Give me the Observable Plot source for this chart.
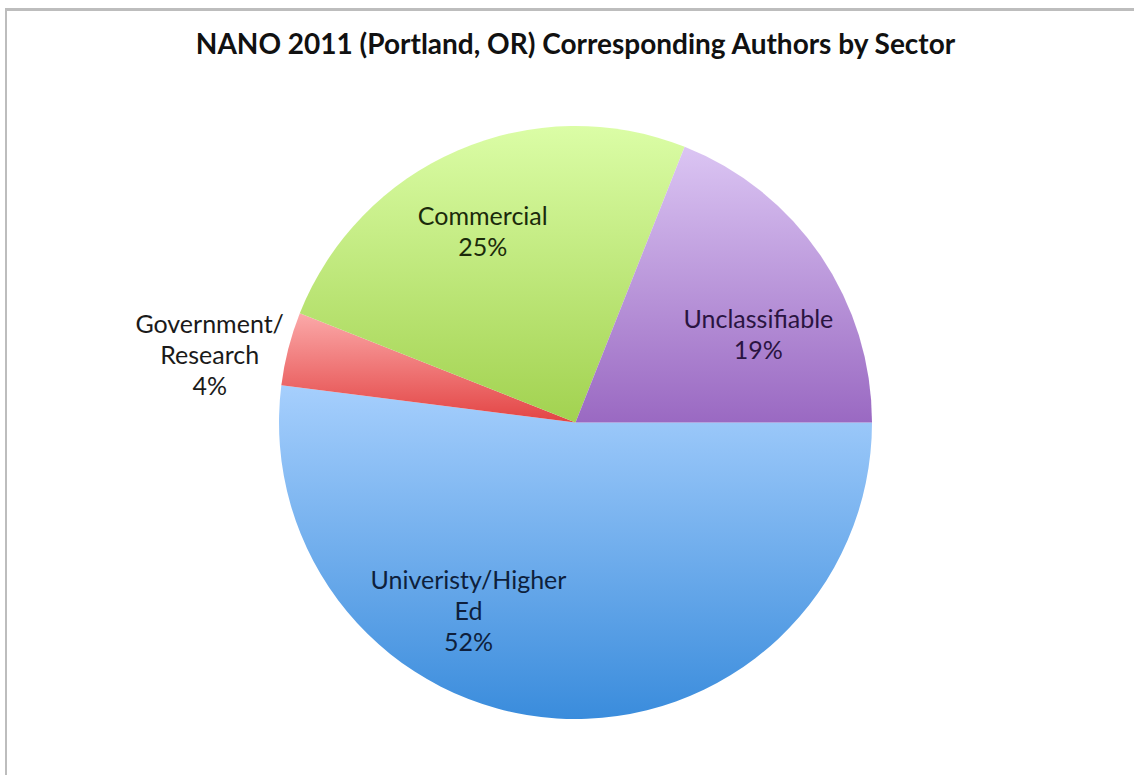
<!DOCTYPE html>
<html>
<head>
<meta charset="utf-8">
<script src="https://cdn.jsdelivr.net/npm/d3@7"></script>
<script src="https://cdn.jsdelivr.net/npm/@observablehq/plot@0.6"></script>
<style>
  html, body { margin: 0; padding: 0; background: #fff; overflow: hidden; }
  body { width: 1134px; height: 775px; position: relative; font-family: Lato, "Open Sans", sans-serif; }
  #frame { position: absolute; left: 5px; top: 8px; width: 1400px; height: 1000px;
           border-top: 3px solid #bdbdbd; border-left: 2px solid #bdbdbd; box-sizing: border-box; }
  #title { position: absolute; left: 0; top: 26px; width: 1151px; text-align: center;
           font-family: Lato, sans-serif; font-weight: bold; font-size: 28px; line-height: 34px; color: #111; }
  #chart { position: absolute; left: 0; top: 80px; }
</style>
</head>
<body>
<div id="frame"></div>
<div id="title"></div>
<div id="chart"></div>
<script>
// ---- data ----
const chartTitle = "NANO 2011 (Portland, OR) Corresponding Authors by Sector";
const sectors = ["Univeristy/Higher Ed", "Government/Research", "Commercial", "Unclassifiable"];
const labelLines = [["Univeristy/Higher", "Ed"], ["Government/", "Research"], ["Commercial"], ["Unclassifiable"]];
const shares = [52, 4, 25, 19];

// ---- styles / layout ----
const gradTop = ["#a6cffd", "#fba9a9", "#dbfda6", "#dbc5f3"];
const gradBottom = ["#3a8cdc", "#e34444", "#a2d250", "#9a69c2"];
const textColors = ["#0e1f3c", "#1a1a1a", "#1b2a0b", "#2a1441"];
// label placement: angular shift (deg) from the slice's mid-angle, radius in pie radii
const labelShift = [26.8, -3.1, -2.0, 7.1];
const labelRadius = [0.717, 1.26, 0.733, 0.691];

document.getElementById("title").textContent = chartTitle;

const pie = d3.pie().sort(null).value(d => d)
  .startAngle(Math.PI / 2).endAngle(Math.PI / 2 + 2 * Math.PI);
const arcs = pie(shares);

const labelData = arcs.map((a, i) => {
  const mid = (a.startAngle + a.endAngle) / 2 + labelShift[i] * Math.PI / 180;
  return {
    x: labelRadius[i] * Math.sin(mid),
    y: labelRadius[i] * Math.cos(mid),
    text: labelLines[i].join("\n") + "\n" + shares[i] + "%",
    color: textColors[i]
  };
});

function pieMark(index, scales) {
  const cx = scales.x(0), cy = scales.y(0), r = scales.x(1) - cx;
  const g = d3.create("svg:g");
  const defs = g.append("defs");
  sectors.forEach((s, i) => {
    const lg = defs.append("linearGradient").attr("id", "grad" + i)
      .attr("x1", 0).attr("y1", 0).attr("x2", 0).attr("y2", 1);
    lg.append("stop").attr("offset", "0%").attr("stop-color", gradTop[i]);
    lg.append("stop").attr("offset", "100%").attr("stop-color", gradBottom[i]);
  });
  const arc = d3.arc().innerRadius(0).outerRadius(r);
  g.append("g").attr("transform", `translate(${cx},${cy})`)
    .selectAll("path").data(arcs).join("path")
    .attr("d", arc)
    .attr("fill", (d, i) => `url(#grad${i})`);
  return g.node();
}

const plot = Plot.plot({
  width: 1134,
  height: 695,
  margin: 0,
  style: { background: "transparent", overflow: "visible" },
  x: { domain: [-1, 1], range: [279, 872], axis: null },
  y: { domain: [-1, 1], range: [639, 46], axis: null },
  marks: [
    pieMark,
    Plot.text(labelData, {
      x: "x", y: "y", text: "text", fill: "color",
      fontSize: 25, lineHeight: 1.24, dy: 4,
      fontFamily: "Lato, sans-serif"
    })
  ]
});
document.getElementById("chart").appendChild(plot);
</script>
</body>
</html>
